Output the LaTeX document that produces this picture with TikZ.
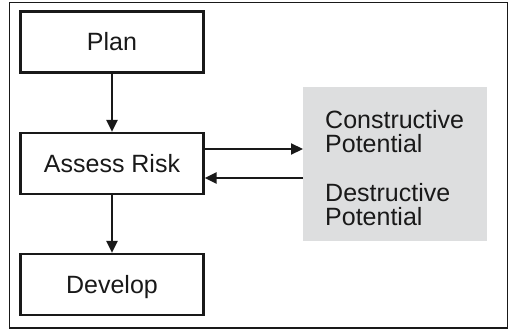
\documentclass[tikz,border=0pt]{standalone}
\usepackage{fontspec}
\setmainfont{Liberation Sans}
\usetikzlibrary{arrows.meta}
\definecolor{panel}{RGB}{221,222,223}
\definecolor{ink}{RGB}{25,25,25}
\begin{document}
\begin{tikzpicture}[x=1pt,y=-1pt,
  stagebox/.style={draw=ink,line width=2.2pt,minimum width=183pt,minimum height=61pt,inner sep=0pt,text height=18pt,text depth=0pt,font=\fontsize{25}{24}\selectfont,text=ink},
  flow/.style={draw=ink,line width=2.2pt,-{Triangle[length=12pt,width=11pt]}},
  tag/.style={font=\fontsize{25}{24}\selectfont,text=ink,align=left,anchor=base west,inner sep=0pt}]
\useasboundingbox (0,0) rectangle (509,329);
\draw[ink,line width=1.4pt] (9.5,2.5) rectangle (507.5,328);
\node[stagebox] (plan) at (112,42) {Plan};
\node[stagebox] (assess) at (112,163.5) {Assess Risk};
\node[stagebox] (develop) at (112,284.5) {Develop};
\node[fill=panel,minimum width=184pt,minimum height=154pt,inner sep=0pt,anchor=north west] (panel) at (303,87) {};
\node[tag] (cons) at (325,152) {Constructive\\Potential};
\node[tag] (dest) at (325,225) {Destructive\\Potential};
\draw[flow] (plan) -- (assess);
\draw[flow] (assess) -- (develop);
\draw[flow] (assess.east |- 0,149) -- (panel.west |- 0,149);
\draw[flow] (panel.west |- 0,178) -- (assess.east |- 0,178);
\end{tikzpicture}
\end{document}
